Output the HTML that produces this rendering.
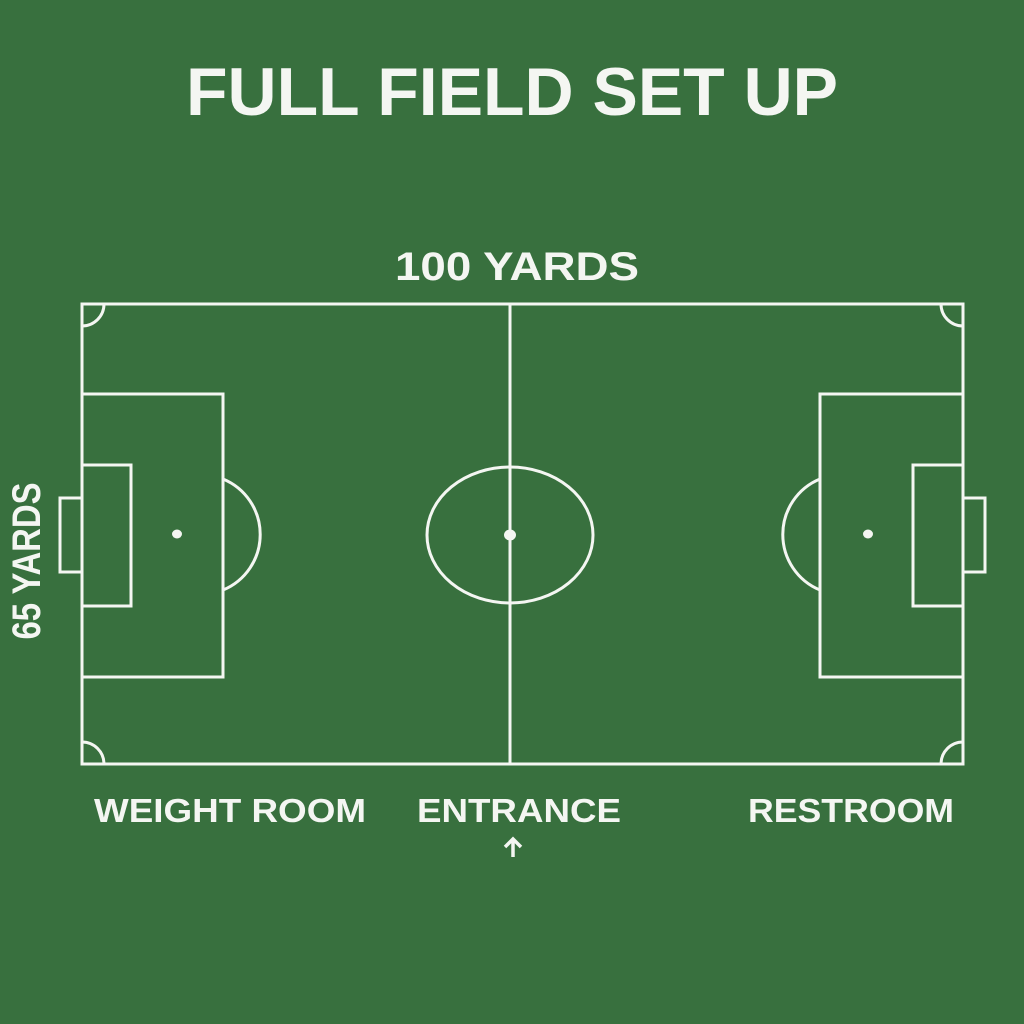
<!DOCTYPE html>
<html><head><style>html,body{margin:0;padding:0;background:#38703e;}svg{display:block}</style></head>
<body>
<svg width="1024" height="1024" viewBox="0 0 1024 1024" xmlns="http://www.w3.org/2000/svg">
<rect width="1024" height="1024" fill="#38703e"/>
<g font-family="Liberation Sans, sans-serif" font-weight="bold" fill="#f4f6f2">
<text x="512" y="115" font-size="68" text-anchor="middle" textLength="652" lengthAdjust="spacingAndGlyphs">FULL FIELD SET UP</text>
<text x="517" y="280" font-size="40" text-anchor="middle" textLength="244" lengthAdjust="spacingAndGlyphs">100 YARDS</text>
<text x="0" y="0" font-size="40" text-anchor="middle" textLength="157" lengthAdjust="spacingAndGlyphs" transform="translate(40,561) rotate(-90)">65 YARDS</text>
<text x="230" y="822" font-size="33" text-anchor="middle" textLength="272" lengthAdjust="spacingAndGlyphs">WEIGHT ROOM</text>
<text x="519" y="822" font-size="33" text-anchor="middle" textLength="204" lengthAdjust="spacingAndGlyphs">ENTRANCE</text>
<text x="851" y="822" font-size="33" text-anchor="middle" textLength="206" lengthAdjust="spacingAndGlyphs">RESTROOM</text>
</g>
<g fill="none" stroke="#f4f6f2" stroke-width="3">
<rect x="82" y="304" width="881" height="460"/>
<line x1="510" y1="304" x2="510" y2="764"/>
<ellipse cx="510" cy="535" rx="83" ry="68"/>
<rect x="82" y="394" width="141" height="283"/>
<rect x="82" y="465" width="49" height="141"/>
<rect x="60" y="498" width="22" height="74"/>
<path d="M223 479 A 60 60 0 0 1 223 590"/>
<rect x="820" y="394" width="143" height="283"/>
<rect x="913" y="465" width="50" height="141"/>
<rect x="963" y="498" width="22" height="74"/>
<path d="M820 479 A 60 60 0 0 0 820 590"/>
<path d="M82 326 A 22 22 0 0 0 104 304"/>
<path d="M941 304 A 22 22 0 0 0 963 326"/>
<path d="M82 742 A 22 22 0 0 1 104 764"/>
<path d="M941 764 A 22 22 0 0 1 963 742"/>
<path d="M513 857 V840 M505 847 L513 839 L521 847" stroke-width="3.5"/>
</g>
<g fill="#f4f6f2">
<ellipse cx="177" cy="534" rx="5" ry="4.5"/>
<ellipse cx="868" cy="534" rx="5" ry="4.5"/>
<ellipse cx="510" cy="535" rx="6" ry="5.5"/>
</g>
</svg>
</body></html>
